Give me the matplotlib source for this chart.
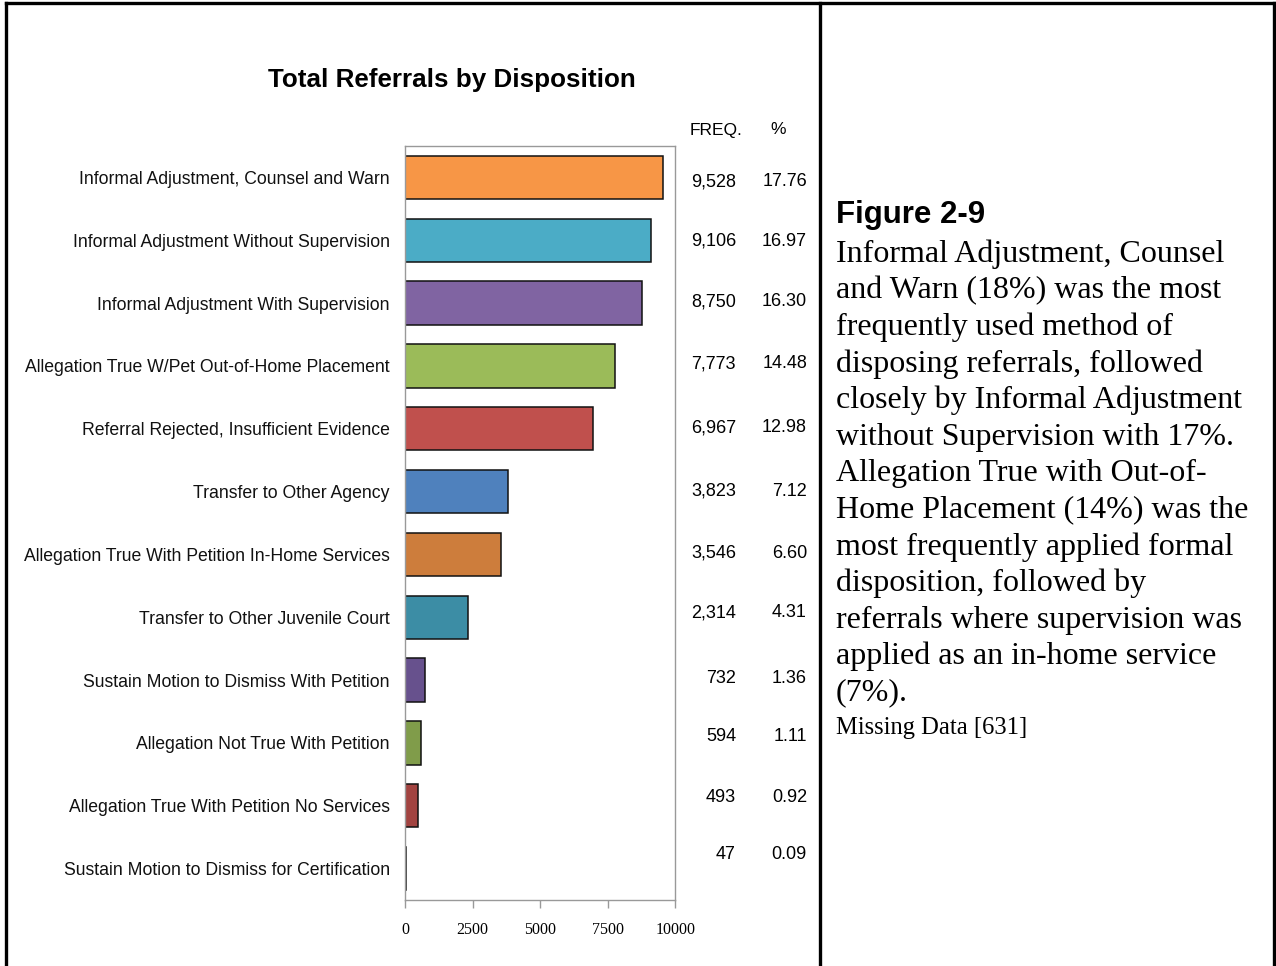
import matplotlib
matplotlib.use("Agg")
import matplotlib.pyplot as plt
from matplotlib import font_manager as fm
from matplotlib.lines import Line2D
from matplotlib.transforms import offset_copy

categories = [
    "Informal Adjustment, Counsel and Warn",
    "Informal Adjustment Without Supervision",
    "Informal Adjustment With Supervision",
    "Allegation True W/Pet Out-of-Home Placement",
    "Referral Rejected, Insufficient Evidence",
    "Transfer to Other Agency",
    "Allegation True With Petition In-Home Services",
    "Transfer to Other Juvenile Court",
    "Sustain Motion to Dismiss With Petition",
    "Allegation Not True With Petition",
    "Allegation True With Petition No Services",
    "Sustain Motion to Dismiss for Certification",
]
freq = [9528, 9106, 8750, 7773, 6967, 3823, 3546, 2314, 732, 594, 493, 47]
pct = [17.76, 16.97, 16.30, 14.48, 12.98, 7.12, 6.60, 4.31, 1.36, 1.11, 0.92, 0.09]
xticks = [0, 2500, 5000, 7500, 10000]

colors = ["#F79646", "#4BACC6", "#8064A2", "#9BBB59", "#C0504D", "#4F81BD",
          "#CD7D3C", "#3C8DA5", "#67518D", "#809C4A", "#A24340", "#8C8C8C"]
# small vertical offsets (points, up positive) of the table numbers relative to bar centres
row_offsets = [-3.0, -0.8, 1.0, 1.5, 0.6, 0.4, 0.8, 3.3, 1.0, 4.4, 6.3, 10.4]

title = "Total Referrals by Disposition"
fig_label = "Figure 2-9"
body_lines = [
    "Informal Adjustment, Counsel",
    "and Warn (18%) was the most",
    "frequently used method of",
    "disposing referrals, followed",
    "closely by Informal Adjustment",
    "without Supervision with 17%.",
    "Allegation True with Out-of-",
    "Home Placement (14%) was the",
    "most frequently applied formal",
    "disposition, followed by",
    "referrals where supervision was",
    "applied as an in-home service",
    "(7%).",
]
missing = "Missing Data [631]"


def has_font(name):
    try:
        fm.findfont(fm.FontProperties(family=name), fallback_to_default=False)
        return True
    except Exception:
        return False


if has_font("Liberation Sans Narrow"):
    NF = "Liberation Sans Narrow"
    lab_size, num_size, title_size = 15, 15, 22
else:
    NF = "Liberation Sans"
    lab_size, num_size, title_size = 12.7, 13, 18.7

W, H = 1276, 966
fig = plt.figure(figsize=(W / 100, H / 100), dpi=100)


def px_line(x0, y0, x1, y1, lw=2.4):
    fig.add_artist(Line2D([x0 / W, x1 / W], [1 - y0 / H, 1 - y1 / H],
                          color="black", lw=lw, transform=fig.transFigure,
                          solid_capstyle="projecting"))


px_line(6, 3, 1274, 3)
px_line(6, 3, 6, 966)
px_line(1274, 3, 1274, 966)
px_line(820, 3, 820, 966)

ax = fig.add_axes([405 / W, 66 / H, 270.3 / W, 754 / H])
y = list(range(len(categories)))
ax.barh(y, freq, height=0.69, color=colors, edgecolor="#111111", linewidth=1.1)
ax.set_ylim(len(categories) - 0.5, -0.5)
ax.set_xlim(0, 10000)
ax.set_yticks(y)
ax.set_yticklabels(categories, family=NF, fontsize=lab_size, color="#111111")
ax.tick_params(axis="y", length=0, pad=11)
ax.set_xticks(xticks)
ax.set_xticklabels([str(t) for t in xticks], family="Liberation Serif", fontsize=11.5)
ax.tick_params(axis="x", direction="out", length=6, color="#999999", width=1, pad=10)
for s in ax.spines.values():
    s.set_color("#999999")
    s.set_linewidth(1.0)

xf = (736 - 405) / 270.3 * 10000
xp = (807 - 405) / 270.3 * 10000
for i, (f, p) in enumerate(zip(freq, pct)):
    tr = offset_copy(ax.transData, fig=fig, x=0, y=row_offsets[i], units="points")
    ax.text(xf, i, f"{f:,}", transform=tr, ha="right", va="center",
            family=NF, fontsize=num_size, clip_on=False)
    ax.text(xp, i, f"{p:.2f}", transform=tr, ha="right", va="center",
            family=NF, fontsize=num_size, clip_on=False)

fig.text(716 / W, 1 - 130 / H, "FREQ.", ha="center", va="center", family=NF, fontsize=12.5)
fig.text(778 / W, 1 - 130 / H, "%", ha="center", va="center", family=NF, fontsize=12.5)

fig.text(452 / W, 1 - 80 / H, title, ha="center", va="center", family=NF,
         fontweight="bold", fontsize=title_size)

# right panel text
fig.text(836 / W, 1 - 215 / H, fig_label, ha="left", va="center",
         family="Liberation Sans", fontweight="bold", fontsize=22.5)
for k, line in enumerate(body_lines):
    fig.text(836 / W, 1 - (254 + k * 36.6) / H, line, ha="left", va="center",
             family="Liberation Serif", fontsize=23.0)
fig.text(836 / W, 1 - 728 / H, missing, ha="left", va="center",
         family="Liberation Serif", fontsize=17.7)

fig.savefig("out.png", dpi=100)
